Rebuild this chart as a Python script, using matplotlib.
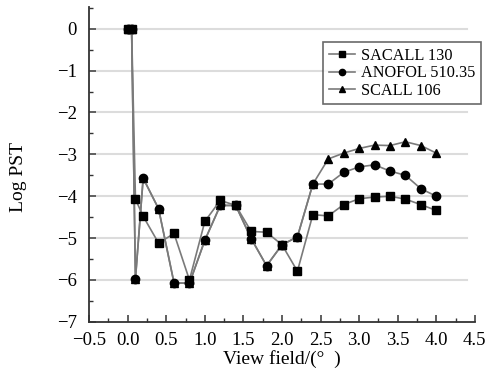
import matplotlib
matplotlib.use("Agg")
import matplotlib.pyplot as plt
from matplotlib.ticker import MultipleLocator, FixedLocator, FuncFormatter

plt.rcParams['font.family'] = ['Liberation Serif', 'DejaVu Serif']

x = [0.0, 0.05, 0.1, 0.2, 0.4, 0.6, 0.8, 1.0, 1.2, 1.4, 1.6, 1.8, 2.0, 2.2,
     2.4, 2.6, 2.8, 3.0, 3.2, 3.4, 3.6, 3.8, 4.0]
sacall_130 = [0, 0, -4.07, -4.48, -5.12, -4.89, -6.0, -4.6, -4.10, -4.22, -4.84, -4.86, -5.16, -5.79,
              -4.44, -4.47, -4.20, -4.06, -4.02, -4.00, -4.07, -4.20, -4.34]
anofol_510 = [0, 0, -5.97, -3.57, -4.30, -6.07, -6.08, -5.05, -4.22, -4.22, -5.01, -5.66, -5.16, -4.97,
              -3.71, -3.71, -3.43, -3.30, -3.25, -3.40, -3.50, -3.82, -4.00]
scall_106 = [0, 0, -5.97, -3.57, -4.30, -6.07, -6.08, -5.05, -4.22, -4.22, -5.01, -5.66, -5.16, -4.97,
             -3.71, -3.11, -2.97, -2.86, -2.78, -2.79, -2.70, -2.79, -2.97]
labels = ["SACALL 130", "ANOFOL 510.35", "SCALL 106"]

fig = plt.figure(figsize=(4.9, 3.85), dpi=100)
ax = fig.add_axes([0.182, 0.164, 0.787, 0.818])

lc = '#7a7a7a'
h3, = ax.plot(x, scall_106, color=lc, lw=1.2, marker='^', ms=6, mfc='black', mec='black', zorder=3, label=labels[2])
h2, = ax.plot(x, anofol_510, color=lc, lw=1.2, marker='o', ms=6, mfc='black', mec='black', zorder=4, label=labels[1])
h1, = ax.plot(x, sacall_130, color=lc, lw=1.2, marker='s', ms=5.3, mfc='black', mec='black', zorder=5, label=labels[0])

ax.set_xlim(-0.5, 4.5)
ax.set_ylim(-7, 0.52)
ax.xaxis.set_major_locator(MultipleLocator(0.5))
ax.xaxis.set_minor_locator(MultipleLocator(0.25))
ax.yaxis.set_major_locator(FixedLocator(list(range(-7, 1))))
ax.yaxis.set_minor_locator(MultipleLocator(0.5))
ax.xaxis.set_major_formatter(FuncFormatter(lambda v, p: ("%.1f" % v).replace('-', '\u2212')))
ax.yaxis.set_major_formatter(FuncFormatter(lambda v, p: ("%d" % round(v)).replace('-', '\u2212')))

for yv in range(-6, 1):
    ax.axhline(yv, xmin=0.02, xmax=0.98, color='#dcdcdc', lw=1.5, zorder=1)

for s in ['top', 'right']:
    ax.spines[s].set_visible(False)
for s in ['left', 'bottom']:
    ax.spines[s].set_color('#333333')
    ax.spines[s].set_linewidth(1.3)

ax.tick_params(axis='both', which='major', direction='in', length=5, width=1.1, colors='#333333',
               labelsize=13.5, labelcolor='black')
ax.tick_params(axis='x', which='major', pad=7)
ax.tick_params(axis='y', which='major', pad=9)
ax.tick_params(axis='both', which='minor', direction='in', length=3, width=1.0, colors='#333333')

ax.set_xlabel("View field/(\u00b0  )", fontsize=14, labelpad=1)
ax.set_ylabel("Log PST", fontsize=14)
ax.yaxis.set_label_coords(-0.16, 0.46)

leg = ax.legend(handles=[h1, h2, h3], loc='upper right', bbox_to_anchor=(0.982, 0.89),
                bbox_transform=fig.transFigure, fontsize=11.7, frameon=True, fancybox=False,
                handlelength=1.6, handletextpad=0.4, borderpad=0.35, labelspacing=0.08,
                borderaxespad=0)
leg.get_frame().set_edgecolor('#444444')
leg.get_frame().set_linewidth(1.2)
for lh in leg.legend_handles:
    lh.set_markersize(4.5)

fig.savefig("out.png", dpi=100)
